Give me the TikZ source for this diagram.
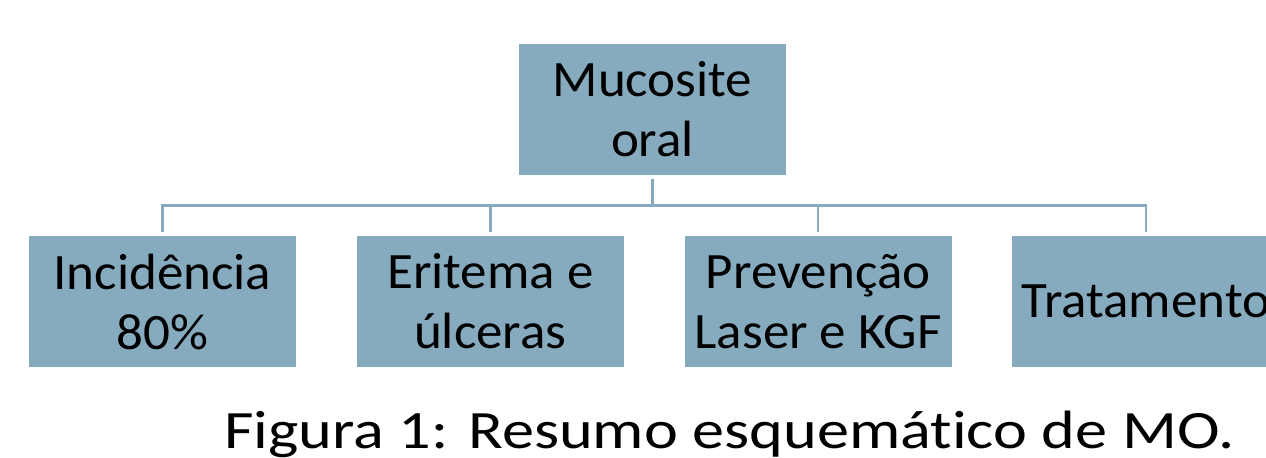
\documentclass[tikz,border=0pt]{standalone}
\usepackage{fontspec}
\setmainfont{Carlito}[FakeStretch=1.04, Ligatures=NoCommon]
\newfontfamily\capfont{Carlito}[FakeStretch=1.19, Ligatures=NoCommon]
\usetikzlibrary{positioning}
\definecolor{moblue}{HTML}{86ABBE}

\begin{document}
\begin{tikzpicture}[x=0.5pt, y=-0.5pt,
    box/.style={rectangle, fill=moblue, minimum width=133.5pt, minimum height=65.5pt,
        inner sep=0pt, align=center, font=\fontsize{25.5}{30}\selectfont},
    link/.style={draw=moblue, line width=1.3pt}]
    \clip (0,0) rectangle (1266,457);
    \node[box] (mo) at (652.5,109.5) {Mucosite\\oral};
    \node[box] (inc) at (162.5,301.5) {Incidência\\80\%};
    \node[box, right=30pt of inc] (eri) {Eritema e\\úlceras};
    \node[box, right=30pt of eri] (pre) {Prevenção\\Laser e KGF};
    \node[box, right=30pt of pre] (tra) {Tratamento};
    \coordinate (fork) at (652.5,205.5);
    \foreach \c in {inc,eri,pre,tra}
        \draw[link] ([yshift=-1.75pt]mo.south) -- (mo.south |- fork) -| ([yshift=2pt]\c.north);
    \node[anchor=base west, inner sep=0pt, font=\capfont\fontsize{27}{32}\selectfont] (cap) at (224,448)
        {Figura 1: Resumo esquemático de MO.};
\end{tikzpicture}
\end{document}
